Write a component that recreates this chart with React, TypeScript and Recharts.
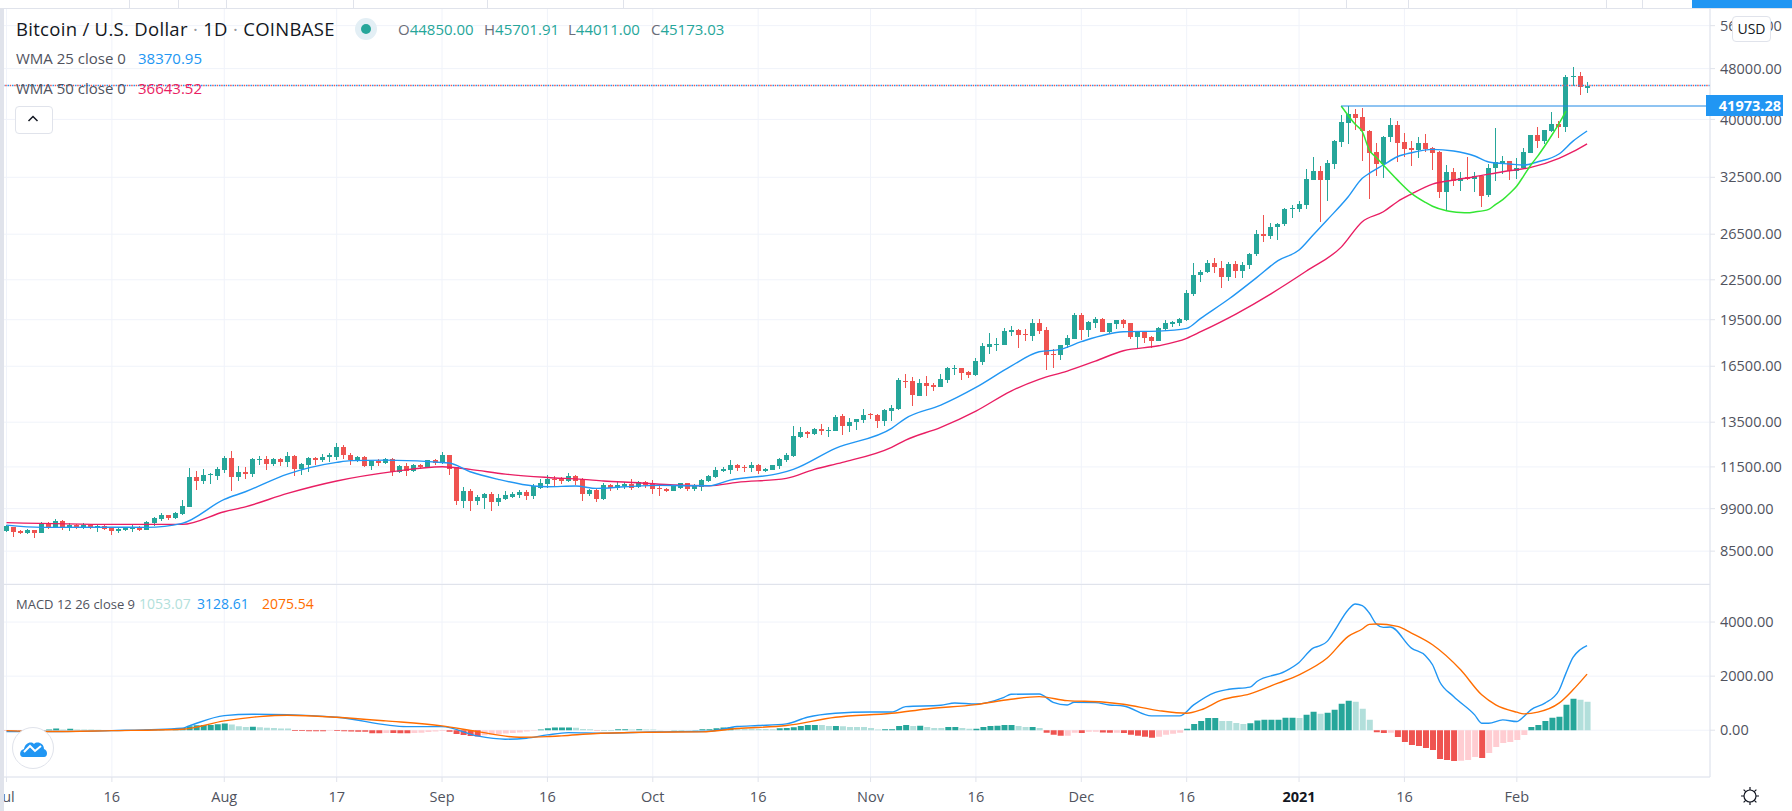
import React from "react";
import {
  ComposedChart,
  Bar,
  Line,
  XAxis,
  YAxis,
  CartesianGrid,
  ReferenceLine,
  Cell,
} from "recharts";

// open, high, low, close per day
const julCandles = [
  [9135, 9334, 9103, 9300], [9267, 9278, 8942, 9103], [9135, 9157, 9038, 9070], [9070, 9190, 9038, 9157],
  [9168, 9168, 8909, 9070], [9070, 9434, 9070, 9400], [9400, 9434, 9212, 9256], [9256, 9537, 9223, 9468],
  [9468, 9502, 9168, 9256], [9267, 9389, 9135, 9334], [9334, 9367, 9201, 9234], [9267, 9400, 9201, 9323],
  [9334, 9367, 9201, 9234], [9256, 9334, 9103, 9289], [9289, 9334, 9168, 9201], [9245, 9256, 9006, 9135],
  [9135, 9256, 9070, 9201], [9168, 9267, 9135, 9234], [9212, 9323, 9103, 9278], [9278, 9300, 9135, 9168],
  [9168, 9468, 9168, 9434], [9400, 9606, 9300, 9571], [9526, 9743, 9468, 9663], [9674, 9674, 9502, 9571],
  [9571, 9778, 9537, 9743], [9709, 10210, 9674, 9993], [9957, 11451, 9957, 11088], [11088, 11329, 10583, 10930],
  [10930, 11410, 10812, 11168], [11168, 11248, 10812, 11195], [11128, 11506, 10969, 11410],
];
const augCandles = [
  [11370, 11957, 11248, 11871], [11871, 12172, 10545, 11088], [11088, 11534, 10930, 11288], [11288, 11492, 11009, 11221],
  [11208, 11871, 11088, 11828], [11785, 11957, 11575, 11828], [11828, 11957, 11370, 11617], [11617, 11871, 11534, 11828],
  [11828, 11871, 11534, 11701], [11701, 12129, 11492, 11957], [11957, 12000, 11128, 11410], [11410, 11659, 11168, 11617],
  [11575, 11914, 11288, 11871], [11871, 11914, 11575, 11785], [11785, 12042, 11701, 11914], [11900, 12100, 11715, 11985],
  [11914, 12527, 11785, 12347], [12347, 12437, 11828, 12000], [12000, 12086, 11575, 11785], [11757, 11971, 11701, 11914],
  [11914, 11971, 11492, 11534], [11534, 11785, 11370, 11757], [11757, 11828, 11534, 11659], [11659, 11871, 11617, 11842],
  [11828, 11871, 11128, 11288], [11288, 11575, 11248, 11534], [11534, 11645, 11128, 11329], [11329, 11617, 11288, 11575],
  [11575, 11617, 11410, 11492], [11492, 11785, 11492, 11785], [11785, 11828, 11575, 11659],
];
const sepCandles = [
  [11659, 12129, 11617, 12000], [12000, 12000, 11168, 11410], [11492, 11492, 10029, 10174], [10174, 10697, 9921, 10545],
  [10545, 10621, 9814, 10174], [10174, 10394, 10029, 10320], [10283, 10469, 9885, 10431], [10431, 10507, 9814, 10138],
  [10138, 10431, 9993, 10283], [10247, 10545, 10210, 10394], [10332, 10507, 10283, 10431], [10394, 10583, 10283, 10494],
  [10507, 10583, 10210, 10357], [10357, 10812, 10247, 10735], [10659, 11022, 10621, 10851], [10812, 11168, 10646, 11009],
  [11022, 11128, 10735, 10982], [11009, 11101, 10812, 10930], [10930, 11248, 10890, 11128], [11128, 11155, 10773, 10930],
  [10995, 11035, 10174, 10431], [10431, 10634, 10357, 10596], [10583, 10621, 10138, 10259], [10247, 10851, 10210, 10773],
  [10773, 10812, 10545, 10659], [10672, 10890, 10583, 10773], [10735, 10890, 10621, 10812], [10812, 11009, 10583, 10659],
  [10697, 10930, 10659, 10890], [10890, 10930, 10659, 10773],
];
const octCandles = [
  [10812, 10969, 10431, 10621], [10659, 10773, 10357, 10608], [10621, 10659, 10507, 10545], [10545, 10735, 10545, 10735],
  [10659, 10851, 10621, 10851], [10851, 10851, 10545, 10621], [10621, 10812, 10545, 10735], [10697, 11009, 10545, 10969],
  [10930, 11168, 10890, 11128], [11088, 11492, 11048, 11370], [11329, 11492, 11288, 11410], [11370, 11785, 11208, 11575],
  [11575, 11617, 11329, 11451], [11492, 11575, 11288, 11451], [11451, 11701, 11288, 11575], [11575, 11617, 11208, 11329],
  [11329, 11451, 11288, 11410], [11370, 11575, 11370, 11575], [11534, 11871, 11410, 11828], [11785, 12086, 11701, 12000],
  [11957, 13315, 11928, 12845], [12800, 13267, 12752, 13031], [13031, 13078, 12752, 12938], [12938, 13220, 12891, 13172],
  [13172, 13410, 12891, 13078], [13078, 13283, 12815, 13124], [13075, 13833, 13060, 13751], [13800, 13898, 12890, 13328],
  [13312, 13685, 12999, 13506], [13473, 13636, 13121, 13636], [13603, 14151, 13473, 13849],
];
const novCandles = [
  [13882, 13964, 13652, 13833], [13849, 13882, 13216, 13570], [13570, 14134, 13312, 14100], [14051, 14338, 13554, 14202],
  [14151, 15794, 14100, 15700], [15644, 16024, 15221, 15590], [15626, 15853, 14304, 14845], [14828, 15737, 14791, 15515],
  [15533, 15929, 14828, 15366], [15422, 15515, 15095, 15329], [15329, 16043, 15293, 15756], [15719, 16432, 15497, 16393],
  [16354, 16570, 15986, 16393], [16393, 16413, 15700, 16120], [16159, 16218, 15816, 15986], [15986, 16970, 15891, 16809],
  [16768, 17908, 16570, 17738], [17675, 18561, 17236, 17844], [17802, 18232, 17381, 17866], [17802, 18898, 17802, 18695],
  [18650, 19034, 18385, 18785], [18785, 18853, 17612, 18451], [18495, 18830, 18015, 18407], [18385, 19540, 18080, 19262],
  [19262, 19540, 18517, 18718], [18785, 18966, 16237, 17174], [17236, 17528, 16393, 17174], [17174, 17802, 16870, 17802],
  [17781, 18429, 17591, 18254], [18188, 19943, 18188, 19824],
];
const decCandles = [
  [19824, 19943, 18123, 18785], [18785, 19402, 18319, 19332], [19262, 19658, 18898, 19540], [19540, 19587, 18606, 18650],
  [18650, 19262, 18517, 19262], [19193, 19471, 18830, 19471], [19471, 19517, 18921, 19193], [19262, 19262, 18188, 18319],
  [18319, 18673, 17654, 18673], [18650, 18650, 17908, 18254], [18319, 18385, 17633, 18058], [18058, 19011, 18058, 18921],
  [18853, 19471, 18740, 19262], [19193, 19425, 18989, 19332], [19262, 19610, 19057, 19540], [19471, 21658, 19355, 21453],
  [21375, 23890, 21221, 22884], [22884, 23300, 22350, 23120], [23120, 24170, 23070, 23860], [23860, 24300, 23050, 23480],
  [23480, 24100, 21900, 22720], [22720, 24000, 22400, 23820], [23820, 24100, 22700, 23240], [23240, 24000, 22700, 23730],
  [23730, 24800, 23400, 24680], [24680, 26900, 24500, 26480], [26480, 28400, 25800, 26270], [26270, 27620, 26100, 27170],
  [27170, 27550, 25890, 27490], [27490, 29110, 27290, 29000], [29000, 29420, 28050, 29080],
];
const janCandles = [
  [29000, 29890, 28730, 29530], [29420, 33480, 29000, 32260], [32190, 34910, 32110, 33240], [33200, 33840, 27680, 32110],
  [32110, 34580, 29880, 34170], [34090, 37150, 33440, 37000], [36870, 40640, 36270, 39580], [39530, 41950, 36620, 40780],
  [40780, 41520, 38510, 40250], [40300, 41670, 34500, 38280], [38370, 38510, 30060, 35500], [35580, 36710, 32570, 34080],
  [34080, 37690, 32380, 37500], [37500, 40150, 36800, 39200], [39200, 39770, 34370, 36800], [36840, 38050, 34870, 35960],
  [36100, 37060, 33880, 35880], [35840, 37510, 34780, 36750], [36750, 37960, 35630, 35960], [36100, 36270, 33360, 35500],
  [35580, 35710, 30140, 30870], [30870, 33960, 28800, 33120], [33120, 33560, 31430, 32110], [32110, 33160, 30940, 32420],
  [32570, 34990, 32260, 32340], [32340, 33160, 30870, 32650], [32650, 32770, 29250, 30390], [30430, 34090, 30250, 33560],
  [33600, 38740, 32000, 34380], [34090, 35080, 32880, 34410], [34410, 34450, 32190, 33200],
];
const febCandles = [
  [33200, 34780, 32300, 33600], [33560, 36060, 33440, 35540], [35500, 37820, 35420, 37820], [37820, 38880, 36060, 36970],
  [37060, 38510, 36620, 38510], [38370, 41080, 38280, 39340], [39340, 39820, 37460, 38930], [38930, 46860, 38150, 46520],
  [46490, 48220, 44990, 46740], [46740, 47480, 43660, 44890], [44850, 45701.91, 44011, 45173.03],
];

// weighted moving averages, [day, value], read where the lines bend
const wma25Points = [
  [0, 9332], [5, 9258], [15, 9262], [20, 9258], [25, 9390], [31, 10233], [34, 10519], [40, 11207], [47, 11688],
  [49, 11760], [54, 11784], [63, 11660], [66, 11300], [70, 10997], [75, 10738], [77, 10708], [81, 10738], [84, 10647],
  [88, 10708], [93, 10763], [97, 10747], [100, 10747], [103, 10968], [110, 11235], [112, 11399], [118, 12293],
  [126, 13205], [128, 13689], [133, 14355], [138, 15295], [143, 16510], [147, 17381], [150, 17530], [153, 18020],
  [159, 18677], [164, 18720], [168, 18902], [170, 19594], [174, 21000], [178, 22700], [181, 24100], [184, 25035],
  [186, 26420], [188, 27885], [191, 30310], [193, 32380], [194, 32966], [196, 33965], [198, 34990], [200, 35496],
  [203, 35932], [206, 35712], [209, 35078], [211, 34334], [214, 34085], [216, 33965], [218, 34368], [221, 35333],
  [223, 37000], [225, 38370.95],
];
const wma50Points = [
  [0, 9415], [15, 9356], [25, 9356], [31, 9792], [34, 9965], [40, 10456], [47, 10932], [55, 11305], [62, 11507],
  [66, 11399], [71, 11207], [77, 11073], [82, 10997], [85, 10932], [90, 10865], [95, 10775], [100, 10747], [104, 10880],
  [111, 11038], [115, 11399], [119, 11688], [126, 12337], [128, 12661], [133, 13253], [138, 14050], [143, 15095],
  [147, 15743], [151, 16219], [155, 16810], [159, 17443], [164, 17760], [168, 18240], [170, 18677], [175, 19900],
  [180, 21400], [185, 23200], [190, 25300], [193, 27717], [196, 28723], [198, 29775], [200, 30610], [203, 31722],
  [206, 32184], [209, 32568], [213, 33160], [217, 33686], [221, 34790], [223, 35626], [225, 36643.52],
];
// hand drawn cup and its rim
const cupPoints = [
  [190, 41973], [192, 39300], [193, 38276], [194, 35843], [195, 34900], [196, 33965], [198, 32200], [200, 30688],
  [202, 29700], [203, 29300], [205, 28830], [207, 28650], [208, 28621], [209, 28700], [211, 28973], [212, 29500],
  [213, 30000], [214, 30688], [215, 31500], [216, 32700], [217, 33965], [218, 35100], [219, 36400], [220, 37824],
  [221, 39400], [222, 41227],
];
const rimPoints = [[190, 41973], [242, 41973]];

const priceTicks = [8500, 9900, 11500, 13500, 16500, 19500, 22500, 26500, 32500, 40000, 48000, 56000];
const macdTicks = [0, 2000, 4000];

// MACD pane
const macdPoints = [
  [0, -50], [6, -50], [15, -15], [25, 75], [26, 160], [31, 540], [35, 590], [40, 578], [47, 480], [57, 133], [62, 133],
  [67, -211], [71, -333], [74, -296], [77, -174], [80, -89], [85, -110], [92, -62], [100, -37], [104, 135], [107, 172],
  [111, 234], [114, 480], [118, 627], [123, 676], [126, 676], [128, 873], [133, 922], [135, 1008], [138, 971],
  [142, 1218], [143, 1328], [147, 1340], [149, 1033], [151, 935], [152, 1033], [155, 1021], [157, 935], [159, 898],
  [163, 529], [167, 529], [169, 935], [172, 1390], [174, 1513], [177, 1593], [178, 1803], [182, 2174], [184, 2507],
  [186, 3038], [187, 3125], [188, 3285], [189, 3656], [191, 4458], [192, 4668], [193, 4606], [194, 4335], [195, 3927],
  [196, 3804], [197, 3816], [200, 3038], [202, 2754], [203, 2420], [204, 1803], [206, 1247], [209, 568], [210, 259],
  [211, 259], [213, 383], [215, 321], [216, 506], [217, 753], [219, 1000], [221, 1470], [222, 2112], [223, 2692],
  [224, 2976], [225, 3128.61],
];
const signalPoints = [
  [0, -15], [6, -50], [15, -15], [25, 37], [31, 344], [36, 504], [40, 555], [47, 480], [54, 344], [62, 159], [67, -52],
  [73, -259], [77, -237], [79, -209], [84, -123], [92, -74], [99, -61], [104, 61], [111, 172], [118, 480], [126, 627],
  [131, 787], [138, 947], [143, 1144], [147, 1242], [151, 1095], [156, 1045], [159, 959], [164, 726], [168, 627],
  [170, 750], [173, 1119], [177, 1346], [181, 1741], [184, 2050], [188, 2668], [191, 3470], [193, 3742], [194, 3915],
  [195, 3927], [198, 3841], [200, 3594], [203, 3162], [207, 2235], [210, 1309], [212, 939], [215, 667], [216, 605],
  [218, 667], [221, 1000], [223, 1494], [225, 2075.54],
];
const julHist = [-10, -12, -15, -8, -5, 5, 30, 60, 30, 55, 30, 28, 25, 15, 8, -5, -20, -25, -15, 10, 20, 25, 35, 30, 45, 80, 150, 180, 190, 195, 220];
const augHist = [245, 215, 150, 120, 130, 110, 90, 80, 65, 60, -25, -30, -35, -36, -38, -20, -30, -40, -50, -55, -60, -110, -115, -100, -105, -110, -115, -100, -90, -70, -50];
const sepHist = [-25, -60, -140, -180, -210, -230, -190, -160, -140, -120, -100, -80, -50, -20, 25, 70, 100, 102, 105, 90, 45, 35, -10, 10, 12, 35, 36, 25, 37, 30];
const octHist = [25, 5, 3, 6, 8, 4, 8, 36, 37, 75, 100, 110, 60, 55, 50, 45, 43, 40, 75, 85, 110, 160, 195, 197, 195, 155, 158, 145, 120, 119, 118];
const novHist = [85, 30, 36, 38, 160, 195, 160, 165, 120, 85, 84, 120, 122, 85, 50, 52, 120, 160, 162, 195, 197, 160, 120, 122, 85, -98, -172, -209, -205, -98];
const decHist = [-100, -60, -58, -85, -98, -95, -100, -172, -209, -246, -283, -246, -172, -135, -98, 50, 234, 344, 455, 456, 344, 343, 270, 234, 260, 358, 383, 384, 385, 457, 458];
const janHist = [452, 568, 680, 605, 642, 753, 975, 1086, 1050, 790, 383, -74, -99, -98, -247, -432, -543, -580, -654, -728, -1062, -1099, -1136, -1130, -1099, -988, -1025, -840, -617, -469, -432];
const febHist = [-358, -173, 123, 197, 345, 457, 494, 938, 1160, 1124, 1053.07];

const monthNames = ["Jul", "Aug", "Sep", "Oct", "Nov", "Dec", "Jan", "Feb"];
const monthLengths = [31, 31, 30, 31, 30, 31, 31, 28];
const dayCount = 243;

const timeLabels: Record<string, string> = {
  "Jul 1": "Jul", "Jul 16": "16", "Aug 1": "Aug", "Aug 17": "17", "Sep 1": "Sep", "Sep 16": "16",
  "Oct 1": "Oct", "Oct 16": "16", "Nov 1": "Nov", "Nov 16": "16", "Dec 1": "Dec", "Dec 16": "16",
  "Jan 1": "2021", "Jan 16": "16", "Feb 1": "Feb",
};

const GREEN = "#26a69a";
const RED = "#ef5350";
const GRID = "#f0f3fa";
const BORDER = "#e0e3eb";
const FONT = "'Open Sans', sans-serif";

const dates: string[] = [];
monthNames.forEach((m, i) => {
  for (let d = 1; d <= monthLengths[i]; d++) dates.push(`${m} ${d}`);
});

const candles = [julCandles, augCandles, sepCandles, octCandles, novCandles, decCandles, janCandles, febCandles].flat();
const hist = [julHist, augHist, sepHist, octHist, novHist, decHist, janHist, febHist].flat();

const pointMap = (points: number[][]) => new Map(points.map((p) => [p[0], p[1]]));
const wma25 = pointMap(wma25Points);
const wma50 = pointMap(wma50Points);
const cup = pointMap(cupPoints);
const rim = pointMap(rimPoints);
const macd = pointMap(macdPoints);
const signal = pointMap(signalPoints);

const priceRows = dates.slice(0, dayCount).map((date, i) => {
  const c = candles[i];
  return {
    date,
    open: c ? c[0] : null,
    close: c ? c[3] : null,
    wick: c ? [c[2], c[1]] : null,
    body: c ? [Math.min(c[0], c[3]), Math.max(c[0], c[3])] : null,
    wma25: wma25.get(i) ?? null,
    wma50: wma50.get(i) ?? null,
    cup: cup.get(i) ?? null,
    rim: rim.get(i) ?? null,
  };
});

const macdRows = dates.slice(0, dayCount).map((date, i) => ({
  date,
  hist: hist[i] ?? null,
  macd: macd.get(i) ?? null,
  signal: signal.get(i) ?? null,
}));

const histColor = (i: number) => {
  const cur = hist[i];
  const prev = i > 0 ? hist[i - 1] : 0;
  if (cur >= 0) return cur >= prev ? GREEN : "#b2dfdb";
  return cur <= prev ? RED : "#ffcdd2";
};

const candleFill = (p: any) => (p.payload.close >= p.payload.open ? GREEN : RED);

const CandleBody = (p: any) => {
  if (!p.payload || p.payload.close == null || !Number.isFinite(p.y)) return null;
  return <rect x={Math.round(p.x)} y={Math.round(p.y)} width={5} height={Math.max(1, Math.round(p.height))} fill={candleFill(p)} />;
};

const CandleWick = (p: any) => {
  if (!p.payload || p.payload.close == null || !Number.isFinite(p.y)) return null;
  return <rect x={Math.round(p.x)} y={Math.round(p.y)} width={1} height={Math.max(1, Math.round(p.height))} fill={candleFill(p)} />;
};

const TimeTick = (p: any) => {
  const label = timeLabels[p.payload.value];
  const bold = label === "2021";
  return (
    <text x={p.x} y={218} textAnchor="middle" fontFamily={FONT} fontSize={14.5} fontWeight={bold ? 700 : 400} fill={bold ? "#131722" : "#50535e"}>
      {label}
    </text>
  );
};

const Txt = ({ x, y, color, size = 15, children }: any) => (
  <div style={{ position: "absolute", left: x, top: y, color, fontSize: size, fontFamily: FONT, lineHeight: "20px", whiteSpace: "pre" }}>
    {children}
  </div>
);

const dividers = [129, 178, 226, 353, 487, 623, 1346, 1408, 1606, 1642];

export default function App() {
  return (
    <div style={{ position: "absolute", left: 0, top: 0, width: 1792, height: 811, overflow: "hidden", background: "#fff" }}>
      <div style={{ position: "absolute", left: 3, top: 8 }}>
        <ComposedChart width={1789} height={576} data={priceRows} margin={{ top: 0, right: 0, bottom: 0, left: 0 }}>
          <CartesianGrid stroke={GRID} />
          <XAxis dataKey="date" ticks={Object.keys(timeLabels)} interval={0} hide />
          <XAxis xAxisId="wick" dataKey="date" hide />
          <YAxis
            orientation="right"
            width={82}
            scale="log"
            domain={[7555, 59660]}
            allowDataOverflow
            ticks={priceTicks}
            interval={0}
            tickSize={5}
            tickMargin={5}
            tickFormatter={(v: number) => v.toFixed(2)}
            tick={{ fontFamily: FONT, fontSize: 14.5, fill: "#50535e" }}
            axisLine={{ stroke: BORDER }}
            tickLine={{ stroke: BORDER }}
          />
          <ReferenceLine y={45173.03} stroke="#2196f3" strokeWidth={1.5} strokeDasharray="1.5 3" />
          <ReferenceLine y={45173.03} stroke="#ef5350" strokeWidth={1.5} strokeDasharray="1.5 3" strokeDashoffset={2.2} />
          <Bar xAxisId="wick" dataKey="wick" barSize={1} shape={CandleWick} isAnimationActive={false} />
          <Bar dataKey="body" barSize={5} shape={CandleBody} isAnimationActive={false} />
          <Line type="monotone" dataKey="wma50" stroke="#e91e63" strokeWidth={1.4} dot={false} activeDot={false} connectNulls isAnimationActive={false} />
          <Line type="monotone" dataKey="wma25" stroke="#2196f3" strokeWidth={1.4} dot={false} activeDot={false} connectNulls isAnimationActive={false} />
          <Line type="monotone" dataKey="cup" stroke="#33e633" strokeWidth={1.5} dot={false} activeDot={false} connectNulls isAnimationActive={false} />
          <Line dataKey="rim" stroke="#1e88e5" strokeWidth={1} dot={false} activeDot={false} connectNulls isAnimationActive={false} />
        </ComposedChart>
      </div>

      <div style={{ position: "absolute", left: 3, top: 584 }}>
        <ComposedChart width={1789} height={227} data={macdRows} margin={{ top: 0, right: 0, bottom: 0, left: 0 }}>
          <CartesianGrid stroke={GRID} />
          <XAxis
            dataKey="date"
            ticks={Object.keys(timeLabels)}
            interval={0}
            height={34}
            tickSize={5}
            tick={TimeTick}
            axisLine={{ stroke: BORDER }}
            tickLine={{ stroke: BORDER }}
          />
          <YAxis
            orientation="right"
            width={82}
            domain={[-1730, 5407]}
            allowDataOverflow
            ticks={macdTicks}
            interval={0}
            tickSize={5}
            tickMargin={5}
            tickFormatter={(v: number) => v.toFixed(2)}
            tick={{ fontFamily: FONT, fontSize: 14.5, fill: "#50535e" }}
            axisLine={{ stroke: BORDER }}
            tickLine={{ stroke: BORDER }}
          />
          <Bar dataKey="hist" barSize={6} isAnimationActive={false}>
            {macdRows.map((r, i) => (
              <Cell key={r.date} fill={r.hist == null ? "none" : histColor(i)} />
            ))}
          </Bar>
          <Line type="monotone" dataKey="macd" stroke="#2196f3" strokeWidth={1.4} dot={false} activeDot={false} connectNulls isAnimationActive={false} />
          <Line type="monotone" dataKey="signal" stroke="#ff6d00" strokeWidth={1.4} dot={false} activeDot={false} connectNulls isAnimationActive={false} />
        </ComposedChart>
      </div>

      {/* frame */}
      <div style={{ position: "absolute", left: 0, top: 0, width: 4, height: 811, background: BORDER }} />
      <div style={{ position: "absolute", left: 0, top: 0, width: 1792, height: 8, background: "#fff", borderBottom: `1px solid ${BORDER}` }} />
      {dividers.map((x) => (
        <div key={x} style={{ position: "absolute", left: x, top: 0, width: 1, height: 8, background: BORDER }} />
      ))}
      <div style={{ position: "absolute", left: 1692, top: 0, width: 100, height: 8, background: "#2196f3" }} />
      <div style={{ position: "absolute", left: 4, top: 584, width: 1706, height: 1, background: BORDER }} />

      {/* legends */}
      <div style={{ position: "absolute", left: 16, top: 18, color: "#131722", fontSize: 18.5, letterSpacing: 0.3, fontFamily: FONT, lineHeight: "22px", whiteSpace: "pre" }}>
        Bitcoin / U.S. Dollar <span style={{ color: "#9598a1" }}>·</span> 1D <span style={{ color: "#9598a1" }}>·</span> COINBASE
      </div>
      <div style={{ position: "absolute", left: 355, top: 18, width: 22, height: 22, borderRadius: 11, background: "#e3eff5" }} />
      <div style={{ position: "absolute", left: 361, top: 24, width: 10, height: 10, borderRadius: 5, background: GREEN }} />
      <Txt x={398} y={19} color="#6a6d78">O<span style={{ color: GREEN }}>44850.00</span></Txt>
      <Txt x={484} y={19} color="#6a6d78">H<span style={{ color: GREEN }}>45701.91</span></Txt>
      <Txt x={568} y={19} color="#6a6d78">L<span style={{ color: GREEN }}>44011.00</span></Txt>
      <Txt x={651} y={19} color="#6a6d78">C<span style={{ color: GREEN }}>45173.03</span></Txt>

      <Txt x={16} y={48} color="#50535e">WMA 25 close 0</Txt>
      <Txt x={138} y={48} color="#2196f3">38370.95</Txt>
      <Txt x={16} y={78} color="#50535e">WMA 50 close 0</Txt>
      <Txt x={138} y={78} color="#e91e63">36643.52</Txt>

      <div style={{ position: "absolute", left: 15, top: 106, width: 36, height: 26, border: `1px solid ${BORDER}`, borderRadius: 4, background: "#fff" }} />
      <svg style={{ position: "absolute", left: 27, top: 114 }} width={12} height={10}>
        <path d="M1.5 7 L6 2.5 L10.5 7" fill="none" stroke="#131722" strokeWidth={1.5} />
      </svg>

      <Txt x={16} y={594} size={13} color="#50535e">MACD 12 26 close 9</Txt>
      <Txt x={139} y={594} size={14} color="#b2dfdb">1053.07</Txt>
      <Txt x={197} y={594} size={14} color="#2196f3">3128.61</Txt>
      <Txt x={262} y={594} size={14} color="#ff6d00">2075.54</Txt>

      {/* price scale badges */}
      <div style={{ position: "absolute", left: 1732, top: 16, width: 37, height: 24, border: `1px solid ${BORDER}`, borderRadius: 4, background: "#fff", color: "#131722", fontSize: 14, fontFamily: FONT, lineHeight: "24px", textAlign: "center" }}>
        USD
      </div>
      <div style={{ position: "absolute", left: 1706, top: 95, width: 77, height: 21, background: "#2196f3", color: "#fff", fontSize: 14.5, fontWeight: 700, fontFamily: FONT, lineHeight: "21px", textAlign: "right", paddingRight: 2, boxSizing: "border-box" }}>
        41973.28
      </div>

      {/* logo and settings */}
      <div style={{ position: "absolute", left: 12, top: 727, width: 42, height: 42, borderRadius: 21, border: `1px solid ${BORDER}`, background: "#fff", boxSizing: "border-box" }} />
      <svg style={{ position: "absolute", left: 20, top: 738 }} width={28} height={20} viewBox="0 0 28 20">
        <path d="M3 19 C-1 19 -1 12 4 11 C5 5 11 3 14 6 C17 3 24 5 24 11 C28 12 28 19 24 19 Z" fill="#2196f3" />
        <path d="M4 14 L10 8 L15 13 L21 8" fill="none" stroke="#fff" strokeWidth={2} />
      </svg>
      <svg style={{ position: "absolute", left: 1740, top: 786 }} width={20} height={20} viewBox="0 0 20 20">
        <circle cx={10} cy={10} r={6} fill="none" stroke="#131722" strokeWidth={1.2} />
        <path d="M10 1 V4 M10 16 V19 M1 10 H4 M16 10 H19 M3.6 3.6 L5.7 5.7 M14.3 14.3 L16.4 16.4 M3.6 16.4 L5.7 14.3 M14.3 5.7 L16.4 3.6" stroke="#131722" strokeWidth={1.2} />
      </svg>
    </div>
  );
}
